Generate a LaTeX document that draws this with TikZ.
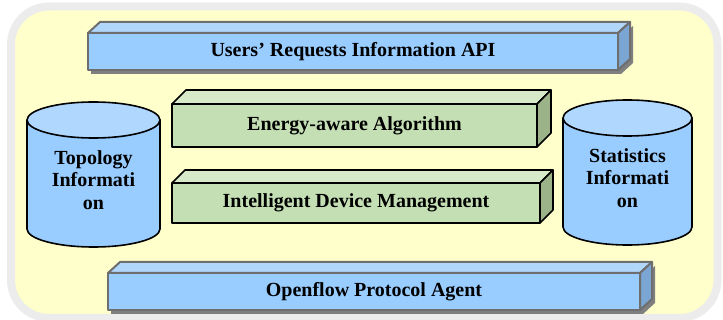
\documentclass[tikz,border=0pt]{standalone}
\usepackage{fontspec}
\setmainfont{Liberation Serif}
\usepackage{tikz}
\usetikzlibrary{calc}
\pgfdeclarelayer{back}
\pgfsetlayers{back,main}

\definecolor{paper}{HTML}{FFFFCC}
\definecolor{framegray}{HTML}{ECECEC}
\definecolor{bluefront}{HTML}{99CCFF}
\definecolor{bluetop}{HTML}{B0D6FA}
\definecolor{blueside}{HTML}{7BA6D3}
\definecolor{bluedraw}{HTML}{6E6E6E}
\definecolor{shadegray}{HTML}{7F7F7F}
\definecolor{greenfront}{HTML}{C4DFB4}
\definecolor{greentop}{HTML}{D6E9C9}
\definecolor{greenside}{HTML}{9CB38A}
\definecolor{drumtop}{HTML}{B0D8FF}

% top and right faces of a slab
\newcommand{\slab}[5]{%
  \draw[fill=#4] (#1.north west) -- ++(#2,#3) -- ($(#1.north east)+(#2,#3)$)
        -- (#1.north east) -- cycle;
  \draw[fill=#5] (#1.north east) -- ++(#2,#3) -- ($(#1.south east)+(#2,#3)$)
        -- (#1.south east) -- cycle;}
% drop shadow of a blue slab
\newcommand{\slabshade}[3]{%
  \fill[shadegray] ($(#1.south west)+(3,4)$) rectangle ($(#1.north east)+(3,4)$);
  \fill[shadegray] ($(#1.north east)+(3,4)$) -- ($(#1.north east)+(#2+3,#3+4)$)
        -- ($(#1.south east)+(#2+3,#3+4)$) -- ($(#1.south east)+(3,4)$) -- cycle;}
% cylinder: centre x, top y, bottom y, x radius
\newcommand{\drum}[4]{%
  \draw[drum] (#1-#4,#2) -- (#1-#4,#3)
        arc[start angle=180,end angle=0,x radius=#4,y radius=18]
        -- (#1+#4,#2) -- cycle;
  \draw[drum,fill=drumtop] (#1,#2) ellipse[x radius=#4,y radius=18];}

\begin{document}
\begin{tikzpicture}[x=1pt,y=-1pt,line join=round,
                    font=\bfseries\fontsize{20}{22.5}\selectfont]
  \tikzstyle{layer}=[outer sep=0pt,inner sep=0pt]
  \tikzstyle{blue layer}=[layer,fill=bluefront,draw=bluedraw,line width=2pt]
  \tikzstyle{green layer}=[layer,fill=greenfront,draw=black,line width=1.6pt]
  \tikzstyle{drum}=[fill=bluefront,draw=black,line width=1.6pt]
  \tikzstyle{drum text}=[align=center,inner sep=0pt]

  \useasboundingbox (0,0) rectangle (723,320);

  \node[blue layer,minimum width=530,minimum height=37] (api) at (353,51.5)
        {Users’ Requests Information API};
  \node[green layer,minimum width=365,minimum height=43] (algo) at (354.5,125.5)
        {Energy-aware Algorithm};
  \node[green layer,minimum width=368,minimum height=40] (mgmt) at (356,203)
        {Intelligent Device Management};
  \node[blue layer,minimum width=532,minimum height=37] (agent) at (374,291.5)
        {Openflow Protocol Agent};

  \begin{pgfonlayer}{back}
    \draw[draw=framegray,line width=8pt,fill=paper,rounded corners=38]
          (11,6.5) rectangle (717.5,318);
    \slabshade{api}{12}{-11}
    \slabshade{agent}{12}{-11}
  \end{pgfonlayer}

  \begin{scope}[draw=bluedraw,line width=2pt]
    \slab{api}{12}{-11}{bluetop}{blueside}
    \slab{agent}{12}{-11}{bluetop}{blueside}
  \end{scope}
  \begin{scope}[draw=black,line width=1.6pt]
    \slab{algo}{14}{-14}{greentop}{greenside}
    \slab{mgmt}{13}{-13}{greentop}{greenside}
  \end{scope}

  \drum{93.5}{120}{229}{66.5}
  \drum{627.5}{118}{227}{64.5}
  \node[drum text] (topo) at (93.5,180) {Topology\\Informati\\on};
  \node[drum text] (stats) at (627.5,178) {Statistics\\Informati\\on};
\end{tikzpicture}
\end{document}
